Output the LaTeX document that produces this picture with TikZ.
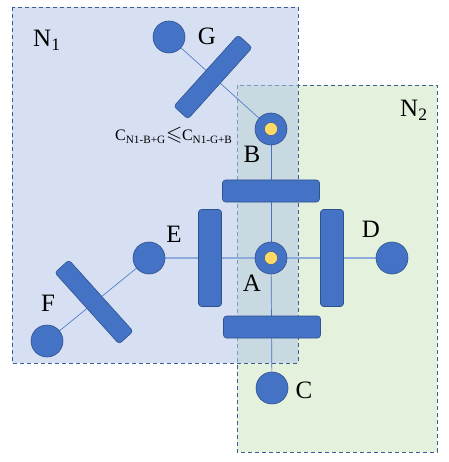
\documentclass[tikz,border=0pt]{standalone}
\usepackage{amssymb}
\usepackage{fontspec}
\setmainfont{Liberation Serif}
\definecolor{bfill}{HTML}{4472C4}
\definecolor{bdraw}{HTML}{2F528F}
\definecolor{yel}{HTML}{FFD966}
\definecolor{nonefill}{HTML}{B4C7E7}
\definecolor{ntwofill}{HTML}{E4F1DC}
\definecolor{nborder}{HTML}{3A5F8F}
\definecolor{hline}{HTML}{8FAADC}
\begin{document}
\begin{tikzpicture}[x=1pt,y=-1pt,
  ball/.style={circle,fill=bfill,draw=bdraw,line width=0.6pt,minimum size=32pt,inner sep=0pt},
  hub/.style={circle,fill=bfill,draw=bdraw,line width=0.6pt,minimum size=32pt,inner sep=0pt,
    path picture={\fill[yel,draw=bdraw,line width=0.4pt] (path picture bounding box.center) circle[radius=6.5pt];}},
  bar/.style={rectangle,rounded corners=3pt,fill=bfill,draw=bdraw,line width=0.6pt,inner sep=0pt},
  hbar/.style={bar,minimum width=97pt,minimum height=22pt},
  vbar/.style={bar,minimum width=23pt,minimum height=97pt},
  tbar/.style={bar,minimum width=96pt,minimum height=19pt},
  lbl/.style={font=\fontsize{25}{30}\selectfont,inner sep=0pt},
  zone/.style={draw=nborder,dashed,dash pattern=on 4pt off 3pt,line width=0.8pt},
  link/.style={draw=bfill,line width=0.7pt}
]
\useasboundingbox (0,0) rectangle (448,462);
% zones
\path[zone,fill=ntwofill] (237,85) rectangle (437,452);
\path[zone,fill=nonefill,fill opacity=0.55] (12,7) rectangle (298,363);
\node[lbl,anchor=base west] (n1) at (33,47) {N\textsubscript{1}};
\node[lbl,anchor=base west] (n2) at (400,117) {N\textsubscript{2}};
% coordinates
\coordinate (pG) at (169,37);
\coordinate (pB) at (271,129);
\coordinate (pA) at (271,258);
\coordinate (pC) at (272,388);
\coordinate (pE) at (149,258);
\coordinate (pD) at (392,258);
\coordinate (pF) at (47,341);
% connectors
\draw[hline,line width=1.2pt] (pE) -- (pD);
\draw[link] (pB) -- (pA);
\draw[link] (pA) -- (pC);
\draw[link,line width=0.6pt] (pG) -- (pB);
\draw[link,line width=0.6pt] (pE) -- (pF);
% bars
\node[hbar] (barT) at (271,191) {};
\node[hbar] (barB) at (272,327) {};
\node[vbar] (barL) at (210,258) {};
\node[vbar] (barR) at (332,258) {};
\node[tbar,rotate=48] (barG) at (213,77) {};
\node[tbar,rotate=-48] (barF) at (94,302) {};
% nodes
\node[ball] (G) at (pG) {};
\node[hub] (B) at (pB) {};
\node[hub] (A) at (pA) {};
\node[ball] (C) at (pC) {};
\node[ball] (E) at (pE) {};
\node[ball] (D) at (pD) {};
\node[ball] (F) at (pF) {};
% labels
\node[lbl] (lG) at (207,36) {G};
\node[lbl] (lB) at (252,154) {B};
\node[lbl] (lE) at (174,234) {E};
\node[lbl] (lD) at (371,229) {D};
\node[lbl] (lA) at (252,283) {A};
\node[lbl] (lF) at (48,303) {F};
\node[lbl] (lC) at (304,390) {C};
\node[font=\fontsize{16}{19}\selectfont,inner sep=0pt,anchor=base west] (cmp) at (115,141)
  {C\textsubscript{N1-B+G}\kern0.5pt{\fontsize{21}{21}\selectfont$\leqslant$}\kern-0.5ptC\textsubscript{N1-G+B}};
\end{tikzpicture}
\end{document}
